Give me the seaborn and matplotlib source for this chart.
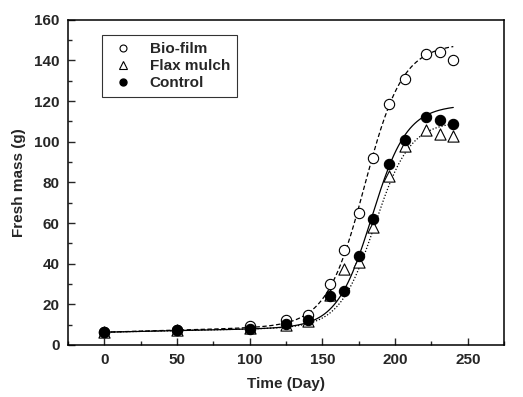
import numpy as np
import pandas as pd
import seaborn as sns
import matplotlib.pyplot as plt
from matplotlib.lines import Line2D
from matplotlib.ticker import MultipleLocator

# points
days = [0, 50, 100, 125, 140, 155, 165, 175, 185, 196, 207, 221, 231, 240]
biofilm = [6.5, 7.5, 9.5, 12.5, 15.0, 30.0, 46.5, 65.0, 92.0, 118.5, 131.0, 143.0, 144.0, 140.0]
flax = [6.5, 7.3, 8.3, 10.0, 12.0, 24.5, 37.5, 40.8, 58.0, 83.0, 98.0, 105.8, 103.8, 103.0]
control = [6.5, 7.3, 8.0, 10.2, 12.5, 24.0, 26.8, 44.0, 62.0, 89.0, 100.8, 112.0, 110.8, 108.8]

# courbes ajustées: y = c + d*x + a / (1 + exp(-(x - x0) / b))
fit_biofilm = [6.3, 0.02, 137, 179, 13]
fit_flax = [6.3, 0.015, 100, 186, 12]
fit_control = [6.3, 0.015, 108, 184, 12]


def courbe(p, x):
    c, d, a, x0, b = p
    return c + d * x + a / (1 + np.exp(-(x - x0) / b))


sns.set_style("ticks")
plt.rcParams['font.family'] = ['Liberation Sans', 'DejaVu Sans']
plt.rcParams['font.weight'] = 'bold'
plt.rcParams['xtick.direction'] = 'in'
plt.rcParams['ytick.direction'] = 'in'

fig = plt.figure(figsize=(5.23, 3.97), dpi=100)
ax = fig.add_axes([0.130, 0.131, 0.834, 0.819])

xs = np.linspace(0, 240, 300)
df_fit = pd.DataFrame({
    'x': np.concatenate([xs, xs, xs]),
    'y': np.concatenate([courbe(fit_biofilm, xs), courbe(fit_flax, xs), courbe(fit_control, xs)]),
    'groupe': ['Bio-film'] * len(xs) + ['Flax mulch'] * len(xs) + ['Control'] * len(xs),
})
styles = {'Bio-film': (0, (3.5, 2)), 'Flax mulch': (0, (1, 1.5)), 'Control': '-'}
for g, ls in styles.items():
    sub = df_fit[df_fit['groupe'] == g]
    sns.lineplot(data=sub, x='x', y='y', color='black', lw=0.9, linestyle=ls, ax=ax)

df = pd.DataFrame({'day': days, 'Bio-film': biofilm, 'Flax mulch': flax, 'Control': control})
sns.scatterplot(data=df, x='day', y='Flax mulch', marker='^', s=65, facecolor='white',
                edgecolor='black', linewidth=0.8, ax=ax, zorder=3)
sns.scatterplot(data=df, x='day', y='Control', marker='o', s=55, color='black',
                edgecolor='black', linewidth=0.8, ax=ax, zorder=4)
sns.scatterplot(data=df, x='day', y='Bio-film', marker='o', s=55, facecolor='white',
                edgecolor='black', linewidth=0.8, ax=ax, zorder=3)

ax.set_xlim(-25, 275)
ax.set_ylim(0, 160)
ax.xaxis.set_major_locator(MultipleLocator(50))
ax.xaxis.set_minor_locator(MultipleLocator(25))
ax.yaxis.set_major_locator(MultipleLocator(20))
ax.yaxis.set_minor_locator(MultipleLocator(10))
ax.tick_params(which='major', length=5, width=1, labelsize=11, pad=6)
ax.tick_params(which='minor', length=3, width=1)
for s in ax.spines.values():
    s.set_visible(True)
    s.set_linewidth(1.1)
    s.set_color('black')
ax.set_xlabel("Time (Day)", fontsize=11, fontweight='bold', labelpad=7)
ax.set_ylabel("Fresh mass (g)", fontsize=11, fontweight='bold', labelpad=6)

handles = [
    Line2D([], [], ls='', marker='o', ms=5, mfc='white', mec='black', mew=0.8),
    Line2D([], [], ls='', marker='^', ms=6, mfc='white', mec='black', mew=0.8),
    Line2D([], [], ls='', marker='o', ms=5, mfc='black', mec='black'),
]
leg = ax.legend(handles, ['Bio-film', 'Flax mulch', 'Control'], loc='upper left',
                bbox_to_anchor=(0.077, 0.952), borderaxespad=0, frameon=True, fancybox=False,
                edgecolor='black', prop={'weight': 'bold', 'size': 11}, labelspacing=0.2,
                handletextpad=0.8, borderpad=0.45, handlelength=1.9)
leg.get_frame().set_linewidth(0.8)

plt.savefig("out.png", dpi=100)
plt.close()
